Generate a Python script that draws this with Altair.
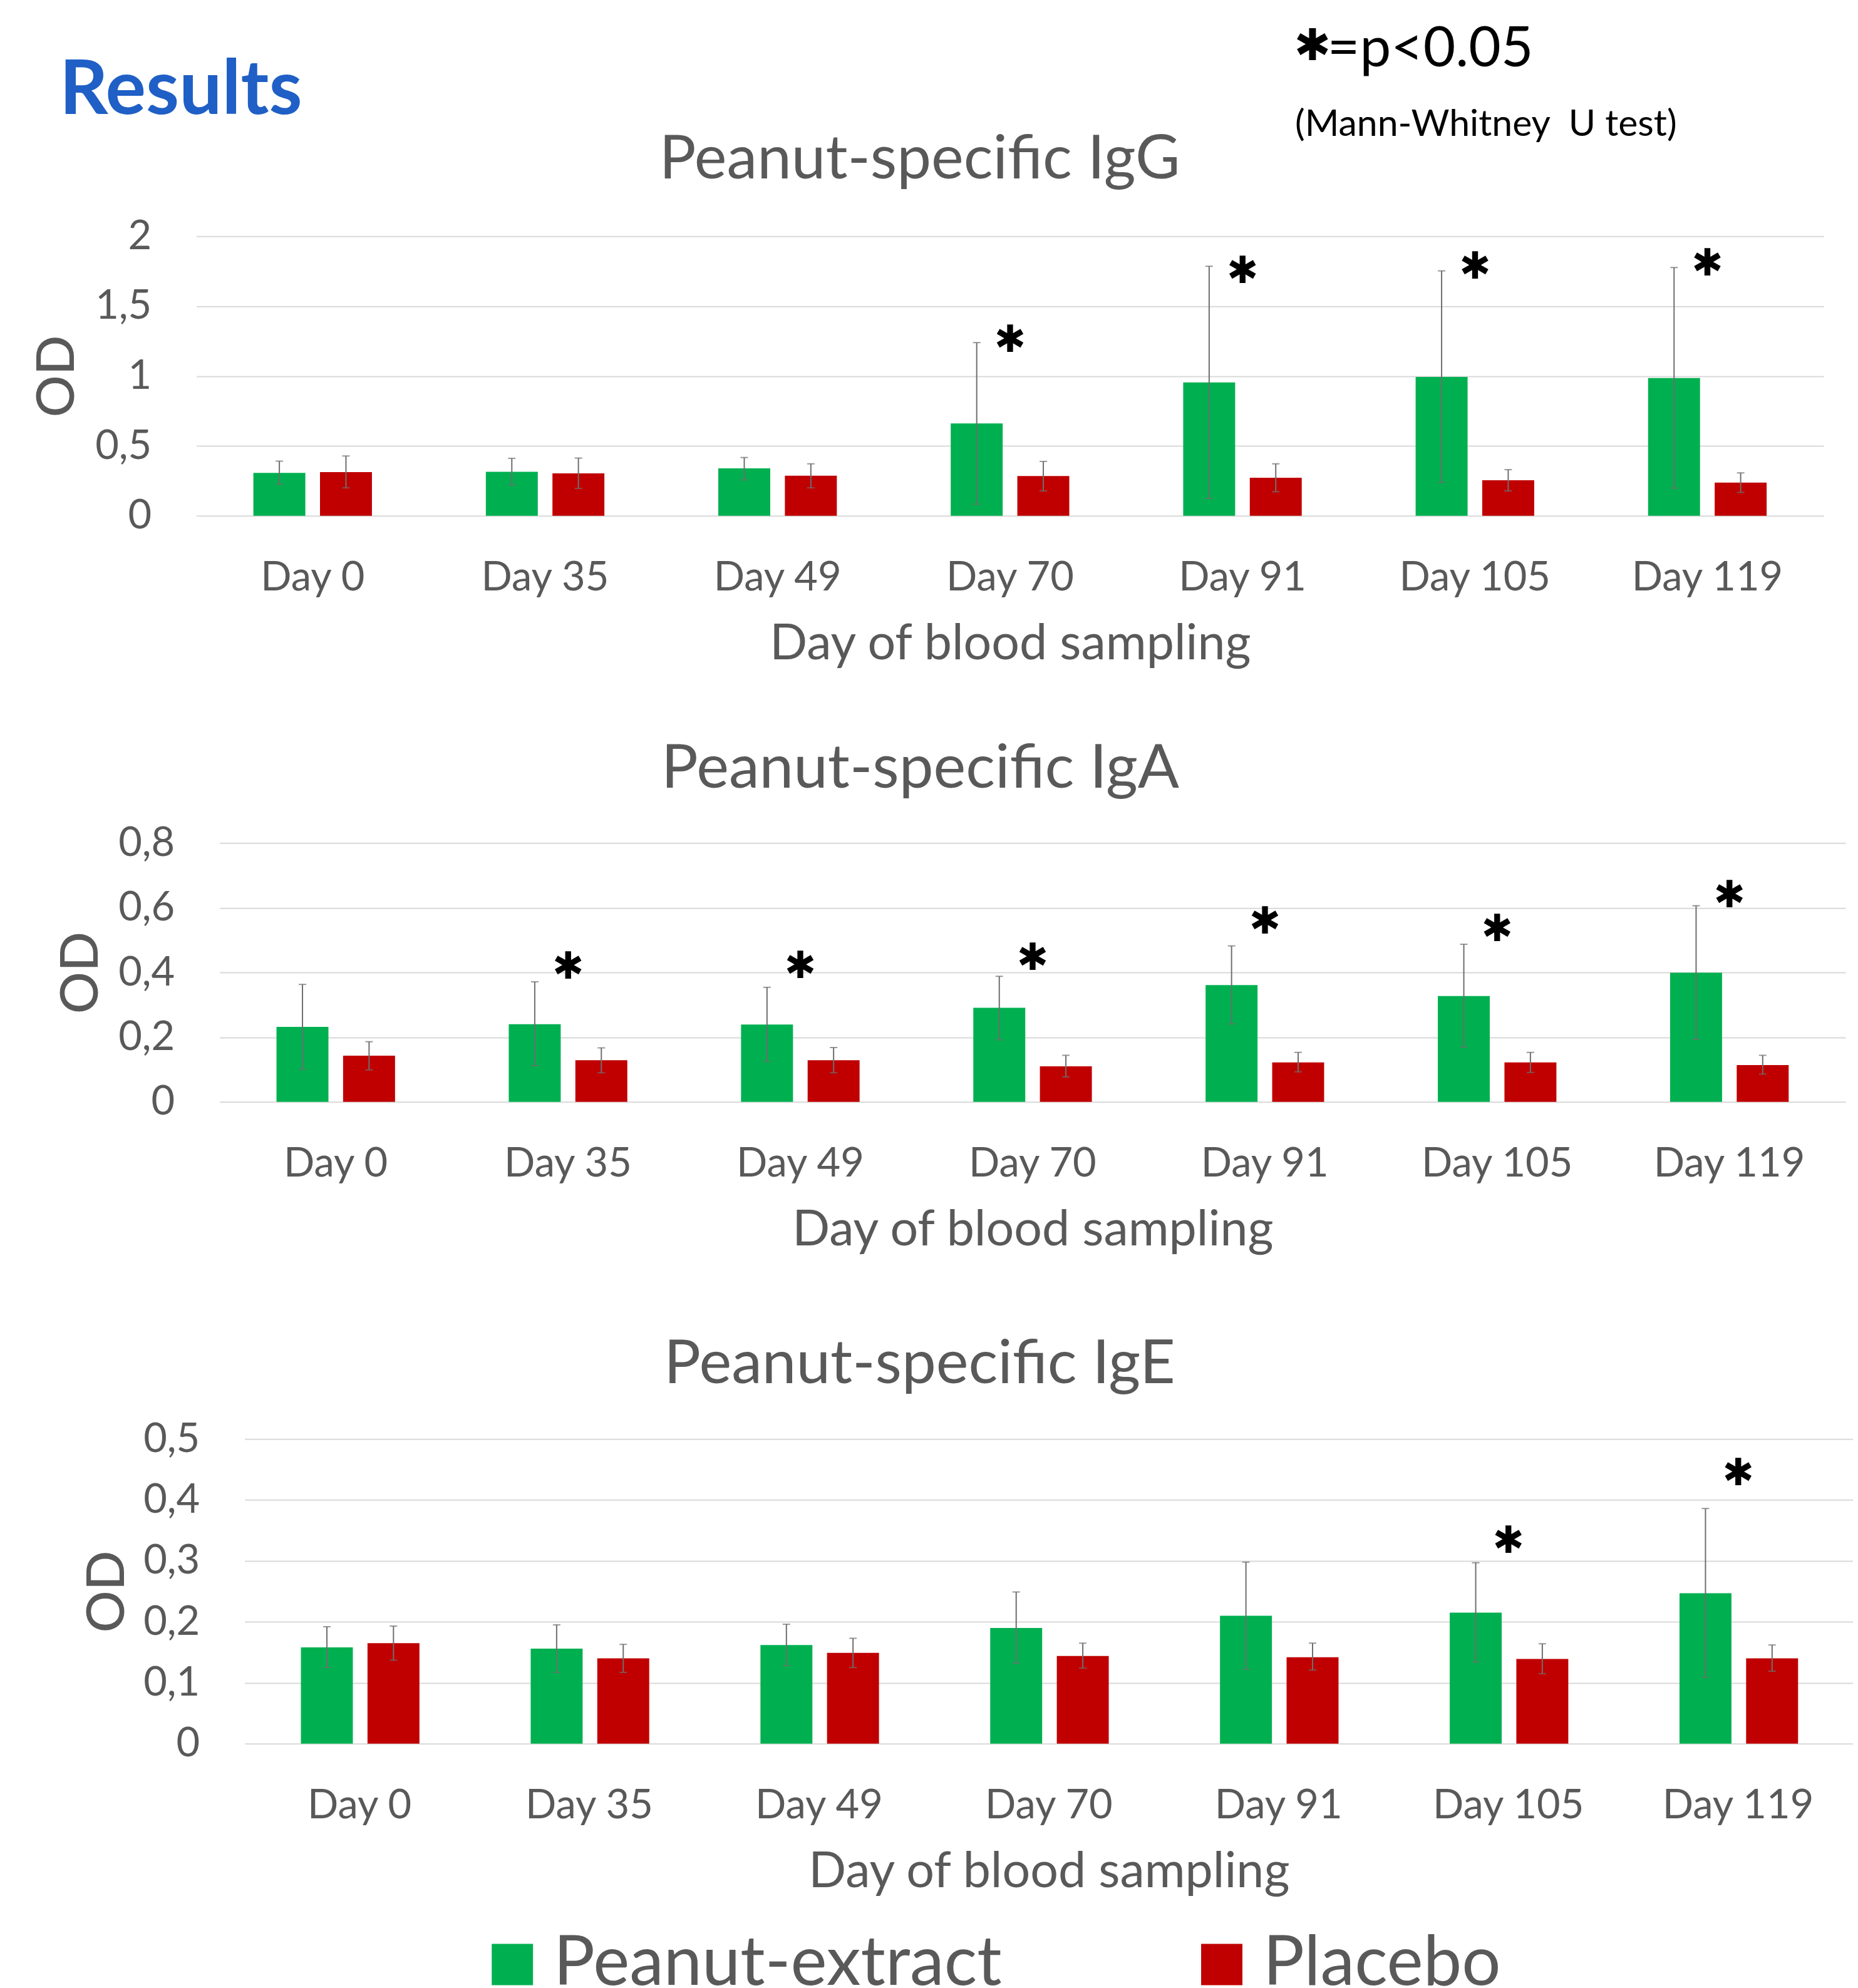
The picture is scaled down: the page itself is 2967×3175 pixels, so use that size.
import altair as alt
import pandas as pd

# ---------------- data ----------------
DAYS = ["Day 0", "Day 35", "Day 49", "Day 70", "Day 91", "Day 105", "Day 119"]
GROUPS = ["Peanut-extract", "Placebo"]
COLORS = ["#00B050", "#C00000"]

# IgG
igg_pe_mean = [0.307, 0.315, 0.339, 0.661, 0.954, 0.993, 0.985]
igg_pe_lo = [0.226, 0.222, 0.257, 0.083, 0.124, 0.239, 0.198]
igg_pe_hi = [0.391, 0.411, 0.417, 1.239, 1.785, 1.752, 1.776]
igg_pl_mean = [0.313, 0.304, 0.287, 0.285, 0.272, 0.254, 0.237]
igg_pl_lo = [0.200, 0.196, 0.200, 0.178, 0.172, 0.178, 0.167]
igg_pl_hi = [0.428, 0.413, 0.372, 0.389, 0.372, 0.330, 0.307]
igg_star = [None, None, None, 1.253, 1.746, 1.778, 1.800]

# IgA
iga_pe_mean = [0.232, 0.240, 0.239, 0.291, 0.361, 0.327, 0.399]
iga_pe_lo = [0.101, 0.112, 0.125, 0.192, 0.241, 0.169, 0.193]
iga_pe_hi = [0.363, 0.371, 0.354, 0.388, 0.482, 0.487, 0.606]
iga_pl_mean = [0.143, 0.129, 0.129, 0.110, 0.122, 0.122, 0.114]
iga_pl_lo = [0.099, 0.090, 0.090, 0.077, 0.093, 0.091, 0.086]
iga_pl_hi = [0.186, 0.167, 0.168, 0.144, 0.153, 0.153, 0.144]
iga_star = [None, 0.415, 0.417, 0.443, 0.554, 0.531, 0.636]

# IgE
ige_pe_mean = [0.158, 0.156, 0.162, 0.190, 0.210, 0.215, 0.247]
ige_pe_lo = [0.125, 0.117, 0.128, 0.132, 0.122, 0.134, 0.109]
ige_pe_hi = [0.192, 0.195, 0.196, 0.249, 0.298, 0.297, 0.386]
ige_pl_mean = [0.165, 0.140, 0.149, 0.144, 0.142, 0.139, 0.140]
ige_pl_lo = [0.137, 0.117, 0.125, 0.124, 0.121, 0.115, 0.119]
ige_pl_hi = [0.193, 0.163, 0.173, 0.165, 0.165, 0.164, 0.162]
ige_star = [None, None, None, None, None, 0.332, 0.443]

IGG_TICKS = [0, 0.5, 1, 1.5, 2]
IGA_TICKS = [0, 0.2, 0.4, 0.6, 0.8]
IGE_TICKS = [0, 0.1, 0.2, 0.3, 0.4, 0.5]

# ---------------- style ----------------
FONT = "Lato"
GRAY = "#595959"
GRID = "#D9D9D9"
EB = "#6E6E6E"
STAR = "\u2731"
PIN_L = 296


def make_df(pm, plo, phi, qm, qlo, qhi):
    rows = []
    for i, d in enumerate(DAYS):
        rows.append(dict(day=d, group=GROUPS[0], mean=pm[i], lo=plo[i], hi=phi[i]))
        rows.append(dict(day=d, group=GROUPS[1], mean=qm[i], lo=qlo[i], hi=qhi[i]))
    return pd.DataFrame(rows)


def star_df(stars):
    return pd.DataFrame([dict(day=d, star=s, sym=STAR) for d, s in zip(DAYS, stars) if s is not None])


LABEL_EXPR = "replace(format(datum.value, '~g'), '.', ',')"


def panel(df, stars, ticks, ymax, W, H, T, B, title, title_x, title_y, od_x,
          legend_pos=None, extra=None):
    xs = alt.Scale(paddingInner=0.49, paddingOuter=0.245)
    x_axis = alt.Axis(
        title="Day of blood sampling", labelAngle=0, labelFont=FONT, labelFontSize=65,
        labelColor=GRAY, labelPadding=119, labelBaseline="alphabetic", labelLimit=1000,
        ticks=False, tickSize=0, domain=False, grid=False,
        titleFont=FONT, titleFontSize=79, titleFontWeight="normal", titleColor=GRAY,
        titleY=229, titleBaseline="alphabetic",
    )
    xo = alt.XOffset("group:N", sort=GROUPS, scale=alt.Scale(paddingInner=0.22, paddingOuter=0))
    ys = alt.Scale(domain=[0, ymax], nice=False, zero=True)
    y_axis = alt.Axis(
        values=ticks, title="OD", grid=True, gridColor=GRID, gridWidth=2, domain=False,
        ticks=False, tickSize=0, labelFont=FONT, labelFontSize=65, labelColor=GRAY,
        labelPadding=72, labelExpr=LABEL_EXPR,
        titleFont=FONT, titleFontSize=84, titleFontWeight=500, titleColor=GRAY,
        titleAngle=270, titleX=od_x, titleY=H / 2, titleBaseline="alphabetic",
        titleAlign="center",
    )

    def X():
        return alt.X("day:N", sort=DAYS, scale=xs, axis=x_axis)

    def Y(field):
        return alt.Y(field, scale=ys, axis=y_axis)

    if legend_pos is None:
        leg = None
    else:
        leg = alt.Legend(
            orient="none", legendX=legend_pos[0], legendY=legend_pos[1],
            direction="horizontal", columns=2,
            title=None, symbolType="square", symbolSize=4356, symbolStrokeWidth=0,
            symbolOpacity=1, labelFont=FONT, labelFontSize=110, labelColor=GRAY,
            labelOffset=11, columnPadding=296, padding=0, labelLimit=2000,
        )
    color = alt.Color("group:N", sort=GROUPS, scale=alt.Scale(domain=GROUPS, range=COLORS), legend=leg)
    base = alt.Chart(df)
    bars = base.mark_bar().encode(x=X(), xOffset=xo, y=Y("mean:Q"), color=color)
    err = base.mark_rule(color=EB, strokeWidth=2).encode(x=X(), xOffset=xo, y=Y("lo:Q"), y2="hi:Q")
    cap_lo = base.mark_tick(color=EB, thickness=2, size=12).encode(x=X(), xOffset=xo, y=Y("lo:Q"))
    cap_hi = base.mark_tick(color=EB, thickness=2, size=12).encode(x=X(), xOffset=xo, y=Y("hi:Q"))
    st = alt.Chart(star_df(stars)).mark_text(
        font="DejaVu Sans", fontSize=60, color="black", baseline="middle", align="center"
    ).encode(x=X(), y=Y("star:Q"), text="sym:N")
    ttl = alt.Chart(pd.DataFrame({"t": [title]})).mark_text(
        font=FONT, fontSize=98, color=GRAY, align="center", baseline="alphabetic"
    ).encode(text="t:N", x=alt.value(title_x), y=alt.value(title_y))
    # invisible rule fixing the panel's layout box
    pin = alt.Chart(pd.DataFrame({"k": [0]})).mark_rule(strokeOpacity=0, opacity=0).encode(
        x=alt.value(-PIN_L), x2=alt.value(-PIN_L), y=alt.value(-T), y2=alt.value(H + B))
    layers = [bars, err, cap_lo, cap_hi, st, ttl, pin] + (extra or [])
    return alt.layer(*layers).properties(width=W, height=H)


def spacer(w):
    return alt.Chart(pd.DataFrame({"k": [0]})).mark_rule(strokeOpacity=0, opacity=0).encode(
        x=alt.value(0), x2=alt.value(w), y=alt.value(0), y2=alt.value(1)
    ).properties(width=w, height=1)


# header texts (part of first panel, positioned relative to its plot area)
hdr = pd.DataFrame({"results": ["Results"], "p": ["=p<0.05"],
                    "test": ["(Mann-Whitney\u00a0 U test)"], "s": [STAR]})
h_results = alt.Chart(hdr).mark_text(
    font=FONT, fontSize=121, fontWeight="bold", color="#1F5FC6", align="left", baseline="alphabetic"
).encode(text="results:N", x=alt.value(-219), y=alt.value(-195))
h_star = alt.Chart(hdr).mark_text(
    font="DejaVu Sans", fontSize=70, color="black", align="center", baseline="middle"
).encode(text="s:N", x=alt.value(1784), y=alt.value(-303))
h_p = alt.Chart(hdr).mark_text(
    font=FONT, fontSize=89, color="black", align="left", baseline="alphabetic"
).encode(text="p:N", x=alt.value(1808), y=alt.value(-272))
h_test = alt.Chart(hdr).mark_text(
    font=FONT, fontSize=59, color="black", align="left", baseline="alphabetic"
).encode(text="test:N", x=alt.value(1756), y=alt.value(-160))

B = 270
p1 = panel(make_df(igg_pe_mean, igg_pe_lo, igg_pe_hi, igg_pl_mean, igg_pl_lo, igg_pl_hi),
           igg_star, IGG_TICKS, 2, 2601, 447, 368, B,
           "Peanut-specific IgG", 1156, -92, -196, extra=[h_results, h_star, h_p, h_test])
p2 = panel(make_df(iga_pe_mean, iga_pe_lo, iga_pe_hi, iga_pl_mean, iga_pl_lo, iga_pl_hi),
           iga_star, IGA_TICKS, 0.8, 2599, 414, 253, B,
           "Peanut-specific IgA", 1120, -88, -195)
p3 = panel(make_df(ige_pe_mean, ige_pe_lo, ige_pe_hi, ige_pl_mean, ige_pl_lo, ige_pl_hi),
           ige_star, IGE_TICKS, 0.5, 2571, 487, 269, B,
           "Peanut-specific IgE", 1079, -89, -193, legend_pos=(373, 785))

# plot-area left edges: 314, 351, 391 px on the page (8px page margin)
row1 = alt.hconcat(spacer(314 - 8 - PIN_L), p1, spacing=0).resolve_scale(color="independent")
row2 = alt.hconcat(spacer(351 - 8 - PIN_L), p2, spacing=0).resolve_scale(color="independent")
row3 = alt.hconcat(spacer(391 - 8 - PIN_L), p3, spacing=0).resolve_scale(color="independent")

chart = alt.vconcat(row1, row2, row3, spacing=0).resolve_scale(
    color="independent"
).properties(padding=0, background="white").configure_view(stroke=None)

chart.save("out.html", embed_options={"renderer": "svg", "actions": False})
